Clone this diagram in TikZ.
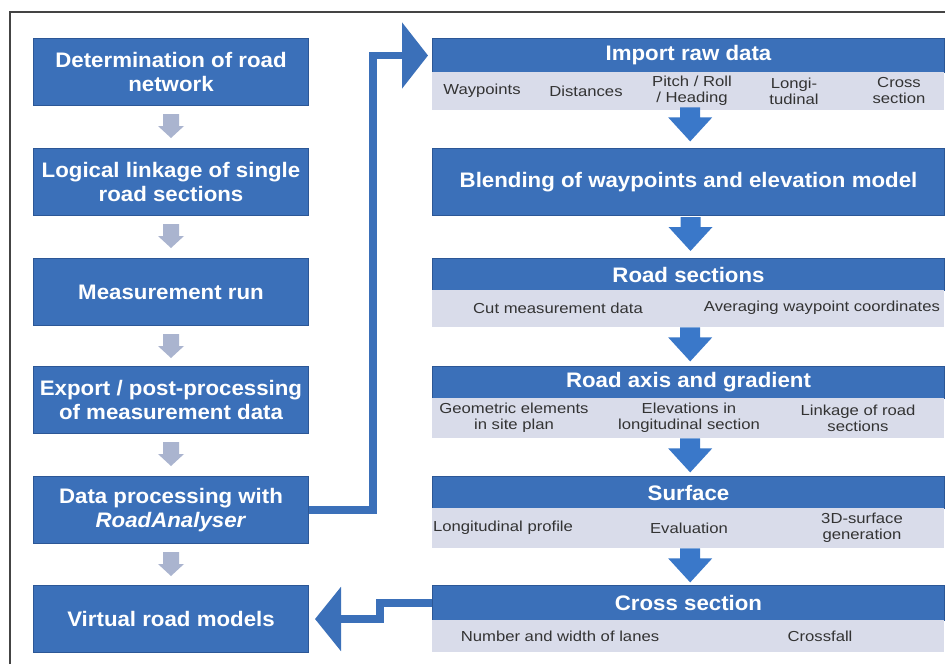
\documentclass[tikz,border=0pt]{standalone}
\usepackage{fontspec}
\setmainfont{Liberation Sans}
\newfontfamily\hfont{Liberation Sans}[FakeStretch=1.06]
\newfontfamily\sfont{Liberation Sans}[FakeStretch=1.15]
\usetikzlibrary{arrows.meta,calc}
\definecolor{boxblue}{HTML}{3B70B9}
\definecolor{boxdark}{HTML}{2C5796}
\definecolor{subfill}{HTML}{D9DCEA}
\definecolor{subtext}{HTML}{333333}
\definecolor{grayarr}{HTML}{AAB4CF}
\definecolor{arrblue}{HTML}{3A78C9}
\definecolor{framecol}{HTML}{444444}
\tikzset{
  x=1pt, y=-1pt,
  lbox/.style={fill=boxblue, draw=boxdark, line width=1pt, text=white,
    font=\hfont\bfseries\fontsize{21}{24}\selectfont, align=center,
    minimum width=275pt, minimum height=67pt, inner sep=0pt, anchor=north west},
  rhead/.style={fill=boxblue, draw=boxdark, line width=1pt, text=white,
    font=\hfont\bfseries\fontsize{21}{24}\selectfont, align=center,
    minimum width=512pt, inner sep=0pt, anchor=north west},
  rsub/.style={fill=subfill, draw=none, minimum width=512pt, inner sep=0pt, anchor=north west},
  stext/.style={text=subtext, font=\sfont\fontsize{14.5}{16}\selectfont, align=center, inner sep=0pt},
  conn/.style={draw=boxblue, line width=7.5pt},
  pics/bdown/.style={code={\fill[arrblue] (-10,0) -- (10,0) -- (10,10) -- (22,10) -- (0,34) -- (-22,10) -- (-10,10) -- cycle;}},
  pics/gdown/.style={code={\fill[grayarr] (-8,0) -- (8,0) -- (8,12) -- (13,12) -- (0,24) -- (-13,12) -- (-8,12) -- cycle;}}
}
\begin{document}
\begin{tikzpicture}
\useasboundingbox (0,0) rectangle (945,664);
\fill[white] (0,0) rectangle (945,664);
% frame
\draw[framecol, line width=2.5pt] (10,664) -- (10,12) -- (945,12);

% left column
\node[lbox] (b1) at (33,38)  {Determination of road\\network};
\node[lbox] (b2) at (33,148) {Logical linkage of single\\road sections};
\node[lbox] (b3) at (33,258) {Measurement run};
\node[lbox] (b4) at (33,366) {Export / post-processing\\of measurement data};
\node[lbox] (b5) at (33,476) {Data processing with\\\textit{RoadAnalyser}};
\node[lbox] (b6) at (33,585) {Virtual road models};

\foreach \a in {b1,b2,b3,b4,b5}{
  \path ($(\a.south)+(0,8)$) pic {gdown};
}

% right column
\node[rhead, minimum height=34pt] (imp) at (432,38) {Import raw data};
\node[rsub, minimum height=38pt] (imps) at (432,72) {};
\node[stext] (w1) at (482,91) {Waypoints};
\node[stext] (w2) at (586,91) {Distances};
\node[stext] (w3) at (692,91) {Pitch / Roll\\/ Heading};
\node[stext] (w4) at (794,91) {Longi-\\tudinal};
\node[stext] (w5) at (899,91) {Cross\\section};

\node[rhead, minimum height=67pt] (bl) at (432,148) {Blending of waypoints and elevation model};

\node[rhead, minimum height=32pt] (rs) at (432,258) {Road sections};
\node[rsub, minimum height=37pt] (rss) at (432,290) {};
\node[stext] (r1) at (558,308) {Cut measurement data};
\node[stext] (r2) at (822,308) {Averaging waypoint coordinates};

\node[rhead, minimum height=32pt] (ra) at (432,366) {Road axis and gradient};
\node[rsub, minimum height=40pt] (ras) at (432,398) {};
\node[stext] (a1) at (514,418) {Geometric elements\\in site plan};
\node[stext] (a2) at (689,418) {Elevations in\\longitudinal section};
\node[stext] (a3) at (858,418) {Linkage of road\\sections};

\node[rhead, minimum height=32pt] (sf) at (432,476) {Surface};
\node[rsub, minimum height=40pt] (sfs) at (432,508) {};
\node[stext] (s1) at (503,528) {Longitudinal profile};
\node[stext] (s2) at (689,528) {Evaluation};
\node[stext] (s3) at (862,528) {3D-surface\\generation};

\node[rhead, minimum height=35pt] (cs) at (432,585) {Cross section};
\node[rsub, minimum height=32pt] (css) at (432,620) {};
\node[stext] (c1) at (560,636) {Number and width of lanes};
\node[stext] (c2) at (820,636) {Crossfall};

% blue down arrows
\path ($(imps.south)+(2,-3)$) pic {bdown};
\path ($(bl.south)+(2,1)$) pic {bdown};
\path ($(rss.south)+(2,0)$) pic {bdown};
\path ($(ras.south)+(2,0)$) pic {bdown};
\path ($(sfs.south)+(2,0)$) pic {bdown};

% connectors
\draw[conn, -{Triangle[width=65pt,length=26pt]}, shorten >=4pt]
  (b5.east) -- ++(64,0) |- (imp.west);
\draw[conn, -{Triangle[width=63pt,length=26pt]}, shorten >=6pt]
  (cs.west) -- ++(-52,0) |- (b6.east);
\end{tikzpicture}
\end{document}
